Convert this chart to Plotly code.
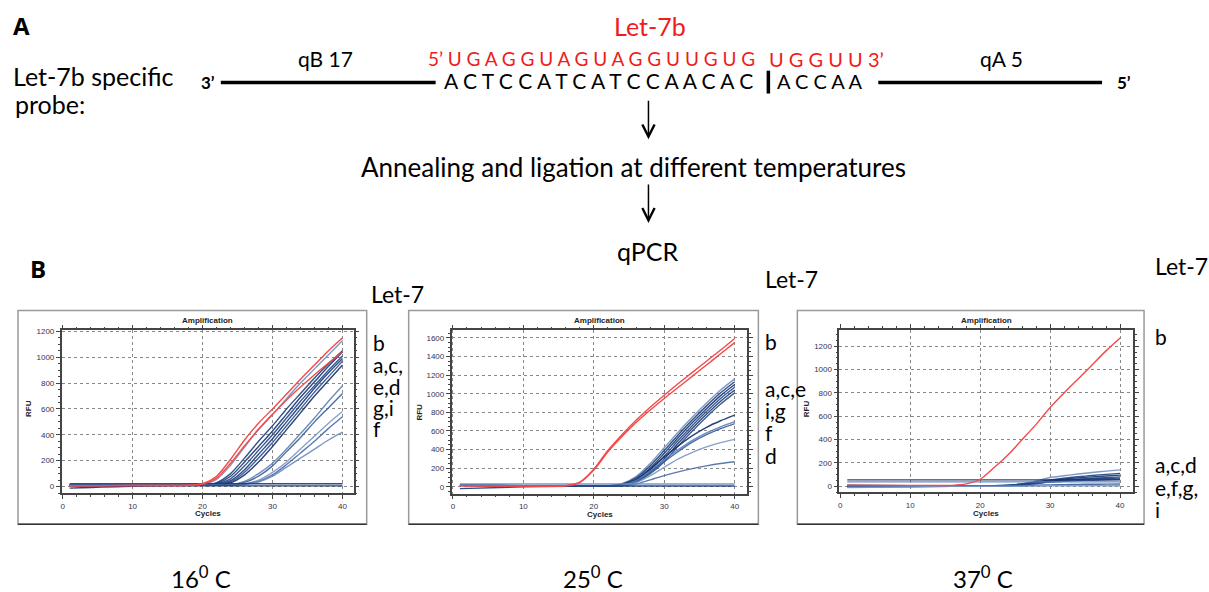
import plotly.graph_objects as go

W, H = 1209, 592
FONT = "Lato"

# ---------------- data ----------------
CYCLES = [1, 10, 16, 18, 20, 22, 24, 26, 28, 30, 32, 34, 36, 38, 40]

# 16 C panel
p16_red_1 = [5, 8, 8, 10, 22, 80, 210, 360, 490, 600, 715, 830, 940, 1050, 1150]
p16_red_2 = [5, 8, 8, 10, 18, 65, 180, 315, 445, 560, 670, 770, 865, 955, 1040]
p16_blue_1 = [10, 12, 12, 12, 16, 55, 165, 305, 440, 555, 680, 800, 910, 1020, 1130]
p16_blue_2 = [8, 10, 10, 10, 12, 30, 100, 220, 350, 470, 600, 720, 840, 950, 1050]
p16_blue_3 = [8, 10, 10, 10, 10, 22, 80, 190, 310, 430, 560, 690, 810, 930, 1040]
p16_blue_4 = [8, 10, 10, 10, 10, 18, 60, 160, 280, 400, 530, 660, 780, 900, 1010]
p16_blue_5 = [8, 10, 10, 10, 10, 15, 45, 130, 250, 370, 500, 630, 760, 880, 990]
p16_blue_6 = [8, 10, 10, 10, 10, 12, 35, 110, 220, 340, 470, 600, 730, 850, 970]
p16_blue_7 = [8, 10, 10, 10, 10, 12, 28, 90, 190, 310, 440, 570, 700, 820, 940]
p16_blue_8 = [8, 10, 10, 10, 10, 10, 16, 40, 100, 180, 290, 410, 530, 660, 780]
p16_blue_9 = [8, 10, 10, 10, 10, 10, 14, 32, 80, 160, 270, 380, 500, 610, 720]
p16_blue_10 = [8, 10, 10, 10, 10, 10, 12, 22, 50, 110, 190, 290, 390, 490, 580]
p16_blue_11 = [8, 10, 10, 10, 10, 10, 12, 20, 40, 90, 170, 260, 350, 450, 540]
p16_blue_12 = [8, 10, 10, 10, 10, 10, 12, 18, 35, 80, 150, 220, 290, 360, 420]
p16_blue_13 = [22, 22, 22, 22, 22, 22, 22, 22, 22, 22, 22, 22, 22, 22, 22]
p16_blue_14 = [-12, 2, 5, 5, 5, 5, 5, 5, 5, 5, 5, 5, 5, 5, 5]

# 25 C panel
p25_red_1 = [10, 8, 12, 50, 190, 390, 560, 715, 855, 985, 1110, 1230, 1350, 1470, 1595]
p25_red_2 = [10, 8, 10, 45, 180, 375, 540, 690, 825, 950, 1070, 1190, 1310, 1430, 1550]
p25_blue_1 = [20, 12, 10, 10, 10, 12, 35, 110, 250, 420, 590, 750, 900, 1040, 1160]
p25_blue_2 = [20, 12, 10, 10, 10, 10, 28, 95, 225, 390, 560, 720, 870, 1010, 1130]
p25_blue_3 = [15, 12, 10, 10, 10, 10, 22, 80, 200, 360, 530, 690, 840, 980, 1100]
p25_blue_4 = [15, 12, 10, 10, 10, 10, 20, 70, 180, 330, 500, 660, 810, 950, 1070]
p25_blue_5 = [15, 12, 10, 10, 10, 10, 18, 60, 160, 300, 470, 630, 780, 920, 1040]
p25_blue_6 = [15, 12, 10, 10, 10, 10, 15, 50, 140, 270, 440, 600, 750, 890, 1010]
p25_blue_7 = [15, 12, 10, 10, 10, 10, 20, 75, 190, 320, 440, 550, 640, 710, 770]
p25_blue_8 = [15, 12, 10, 10, 10, 10, 18, 65, 170, 290, 400, 500, 580, 645, 700]
p25_blue_9 = [15, 12, 10, 10, 10, 10, 15, 55, 150, 270, 380, 480, 560, 625, 680]
p25_blue_10 = [15, 12, 10, 10, 10, 10, 15, 45, 120, 210, 300, 370, 430, 475, 510]
p25_blue_11 = [15, 12, 10, 10, 10, 10, 12, 30, 75, 120, 160, 195, 225, 250, 270]
p25_blue_12 = [30, 30, 30, 30, 30, 30, 30, 30, 30, 30, 30, 30, 30, 30, 30]
p25_blue_13 = [-20, 0, 5, 8, 8, 8, 8, 8, 8, 8, 8, 8, 8, 8, 8]

# 37 C panel
p37_red_1 = [10, 8, 8, 20, 60, 160, 270, 400, 530, 675, 800, 920, 1040, 1160, 1270]
p37_blue_1 = [0, 5, 5, 5, 5, 5, 10, 20, 45, 75, 90, 105, 118, 130, 140]
p37_blue_2 = [-5, 0, 0, 0, 0, 0, 5, 15, 35, 55, 70, 82, 92, 102, 110]
p37_blue_3 = [5, 5, 5, 5, 5, 5, 8, 18, 35, 50, 62, 72, 80, 88, 95]
p37_blue_4 = [10, 5, 5, 5, 5, 5, 10, 20, 35, 45, 55, 62, 68, 74, 80]
p37_blue_5 = [0, 0, 0, 0, 0, 0, 5, 12, 25, 40, 50, 56, 62, 66, 70]
p37_blue_6 = [-5, -5, 0, 0, 0, 0, 5, 12, 22, 35, 42, 48, 52, 56, 60]
p37_blue_7 = [55, 55, 55, 55, 55, 55, 55, 55, 55, 55, 55, 55, 55, 55, 55]
p37_blue_8 = [38, 38, 38, 38, 38, 38, 38, 38, 38, 38, 38, 38, 38, 38, 38]
p37_blue_9 = [0, 0, 0, 0, 0, 0, 2, 5, 10, 12, 14, 16, 17, 18, 20]
p37_blue_10 = [-10, -5, 0, 0, 0, 0, 0, 0, 2, 3, 4, 4, 5, 5, 5]

P16_BLUE = [p16_blue_1, p16_blue_2, p16_blue_3, p16_blue_4, p16_blue_5, p16_blue_6, p16_blue_7,
            p16_blue_8, p16_blue_9, p16_blue_10, p16_blue_11, p16_blue_12, p16_blue_13, p16_blue_14]
P25_BLUE = [p25_blue_1, p25_blue_2, p25_blue_3, p25_blue_4, p25_blue_5, p25_blue_6, p25_blue_7,
            p25_blue_8, p25_blue_9, p25_blue_10, p25_blue_11, p25_blue_12, p25_blue_13]
P37_BLUE = [p37_blue_1, p37_blue_2, p37_blue_3, p37_blue_4, p37_blue_5, p37_blue_6, p37_blue_7,
            p37_blue_8, p37_blue_9, p37_blue_10]

Y_TICKS_16 = [0, 200, 400, 600, 800, 1000, 1200]
Y_TICKS_25 = [0, 200, 400, 600, 800, 1000, 1200, 1400, 1600]
Y_TICKS_37 = [0, 200, 400, 600, 800, 1000, 1200]
X_TICKS = [0, 10, 20, 30, 40]

TEMPS = ["16<sup>0</sup> C", "25<sup>0</sup> C", "37<sup>0</sup> C"]

# ---------------- helpers ----------------
def px(x):
    return x / W

def py(y):
    return 1 - y / H

BLUE_COLS = ["#6f8fc0", "#1d3f7e", "#17356d", "#23468a", "#1a3a78", "#2a4f8f", "#15306a",
             "#5f80b5", "#3a5f9c", "#7b98c6", "#4a6ca6", "#6d8cbf", "#1b3a7a", "#14306a"]
RED = "#f24a4a"

fig = go.Figure()

panels = [
    dict(ax="", red=[p16_red_1, p16_red_2], blue=P16_BLUE),
    dict(ax="2", red=[p25_red_1, p25_red_2], blue=P25_BLUE),
    dict(ax="3", red=[p37_red_1], blue=P37_BLUE),
]
for p in panels:
    for i, ys in enumerate(p["blue"]):
        fig.add_trace(go.Scatter(x=CYCLES, y=ys, mode="lines",
                                 line=dict(color=BLUE_COLS[i % len(BLUE_COLS)], width=1.4,
                                           shape="spline", smoothing=0.8),
                                 opacity=0.9, xaxis="x" + p["ax"], yaxis="y" + p["ax"],
                                 showlegend=False, hoverinfo="skip"))
    for ys in p["red"]:
        fig.add_trace(go.Scatter(x=CYCLES, y=ys, mode="lines",
                                 line=dict(color=RED, width=1.4, shape="spline", smoothing=0.8),
                                 xaxis="x" + p["ax"], yaxis="y" + p["ax"],
                                 showlegend=False, hoverinfo="skip"))

def xax(dom, rng):
    return dict(domain=dom, range=rng, tickvals=X_TICKS, showline=True, linecolor="#444",
                linewidth=1.5, mirror="allticks", ticks="outside", ticklen=4, tickcolor="#444",
                showgrid=True, gridcolor="#888", griddash="dot", gridwidth=1, zeroline=False,
                tickfont=dict(family="Liberation Sans", size=8, color="#333355"),
                minor=dict(ticks="outside", ticklen=2, dtick=2, tick0=0, tickcolor="#444", showgrid=False),
                fixedrange=True)

def yax(dom, rng, tv, anchor):
    return dict(domain=dom, range=rng, tickvals=tv, showline=True, linecolor="#444",
                linewidth=1.5, mirror="allticks", ticks="outside", ticklen=4, tickcolor="#444",
                showgrid=True, gridcolor="#888", griddash="dot", gridwidth=1, zeroline=False,
                tickfont=dict(family="Liberation Sans", size=8, color="#333355"),
                minor=dict(ticks="outside", ticklen=2, dtick=50, tick0=0, tickcolor="#444", showgrid=False),
                anchor=anchor, fixedrange=True)

fig.update_layout(
    width=W, height=H, margin=dict(l=0, r=0, t=0, b=0),
    paper_bgcolor="white", plot_bgcolor="white",
    xaxis=xax([px(60.7), px(353)], [-0.14, 41.6]) | dict(anchor="y"),
    yaxis=yax([py(492.7), py(329)], [-51.5, 1208], Y_TICKS_16, "x"),
    xaxis2=xax([px(451), px(746.7)], [-0.18, 41.76]) | dict(anchor="y2"),
    yaxis2=yax([py(493), py(329)], [-72, 1682], Y_TICKS_25, "x2"),
    xaxis3=xax([px(839), px(1133)], [-0.14, 41.86]) | dict(anchor="y3"),
    yaxis3=yax([py(491.7), py(328.3)], [-51, 1342], Y_TICKS_37, "x3"),
)

shapes = []
annos = []

def text(x, y, s, size=22, color="black", xanchor="center", yanchor="middle", bold=False,
         family=FONT, angle=0):
    if bold:
        s = "<b>" + s + "</b>"
    annos.append(dict(x=px(x), y=py(y), xref="paper", yref="paper", text=s, showarrow=False,
                      xanchor=xanchor, yanchor=yanchor, textangle=angle,
                      font=dict(family=family, size=size, color=color)))

# panel frames + small labels
boxes = [(17, 309, 366, 524), (408, 309, 758, 524), (797, 309, 1144, 524)]
plot_centers = [(207, 319, 28, 407, 513), (599, 319, 419, 411, 514), (986, 319, 807, 408, 513)]
for (x0, y0, x1, y1), (cx, ty, rx, ry, cy) in zip(boxes, plot_centers):
    shapes.append(dict(type="rect", xref="paper", yref="paper", x0=px(x0), x1=px(x1),
                       y0=py(y1), y1=py(y0), line=dict(color="#9a9a9a", width=1.5)))
    shapes.append(dict(type="line", xref="paper", yref="paper", x0=px(x0), x1=px(x1),
                       y0=py(y1), y1=py(y1), line=dict(color="#333", width=1.5)))
    text(cx, ty, "Amplification", size=8, bold=True, family="Liberation Sans", color="#222")
    text(rx, ry, "RFU", size=8, bold=True, family="Liberation Sans", color="#222", angle=-90)
    text(cx, cy, "Cycles", size=8, bold=True, family="Liberation Sans", color="#222")

# Part A
text(10, 23, "A", size=24, bold=True, xanchor="left", family="Open Sans")
text(650, 23, "Let-7b", size=25, color="#ee1c1c")
text(10, 73, "Let-7b specific", size=25, xanchor="left")
text(12, 102, "probe:", size=25, xanchor="left")
text(325, 56, "qB 17", size=21)
text(1001, 56, "qA 5", size=21)
text(207, 80, "3’", size=17, bold=True)
text(1124, 80, "5’", size=17, bold=True)
shapes.append(dict(type="line", xref="paper", yref="paper", x0=px(220), x1=px(435),
                   y0=py(80), y1=py(80), line=dict(color="black", width=3.5)))
shapes.append(dict(type="line", xref="paper", yref="paper", x0=px(878), x1=px(1102),
                   y0=py(80), y1=py(80), line=dict(color="black", width=3.5)))
text(425, 56, "5’ U G A G G U A G U A G G U U G U G", size=19, color="#ee1c1c", xanchor="left")
text(886, 56, "U G G U U 3’", size=20, color="#ee1c1c", xanchor="right")
text(441, 78, "A C T C C A T C A T C C A A C A C", size=21, xanchor="left")
text(865, 78, "A C C A A", size=20, xanchor="right")
shapes.append(dict(type="line", xref="paper", yref="paper", x0=px(768), x1=px(768),
                   y0=py(68), y1=py(91), line=dict(color="black", width=3.5)))

# arrows
for ytop, ybot in [(97, 137), (181, 221)]:
    annos.append(dict(x=px(648), y=py(ybot), ax=0, ay=-(ybot - ytop), xref="paper", yref="paper",
                      axref="pixel", ayref="pixel", showarrow=True, arrowhead=5, arrowsize=1.6,
                      arrowwidth=1.5, arrowcolor="black", text=""))
text(633, 165, "Annealing and ligation at different temperatures", size=26)
text(648, 249, "qPCR", size=25)
text(27, 267, "B", size=24, bold=True, xanchor="left", family="Open Sans")

# right-side labels
text(368, 292, "Let-7", size=23, xanchor="left")
text(763, 277, "Let-7", size=23, xanchor="left")
text(1153, 264, "Let-7", size=23, xanchor="left")
for lab, yy in [("b", 341), ("a,c,", 363), ("e,d", 385), ("g,i", 407), ("f", 428)]:
    text(370, yy, lab, size=21, xanchor="left")
for lab, yy in [("b", 340), ("a,c,e", 387), ("i,g", 410), ("f", 432), ("d", 455)]:
    text(763, yy, lab, size=21, xanchor="left")
for lab, yy in [("b", 335), ("a,c,d", 464), ("e,f,g,", 487), ("i", 509)]:
    text(1153, yy, lab, size=21, xanchor="left")

# temperatures
for t, xx in zip(TEMPS, [200, 592, 983]):
    text(xx, 577, t, size=24)

fig.update_layout(shapes=shapes, annotations=annos)
fig.write_html("out.html", config={"displayModeBar": False},
               post_script="document.body.style.margin='0px';")
